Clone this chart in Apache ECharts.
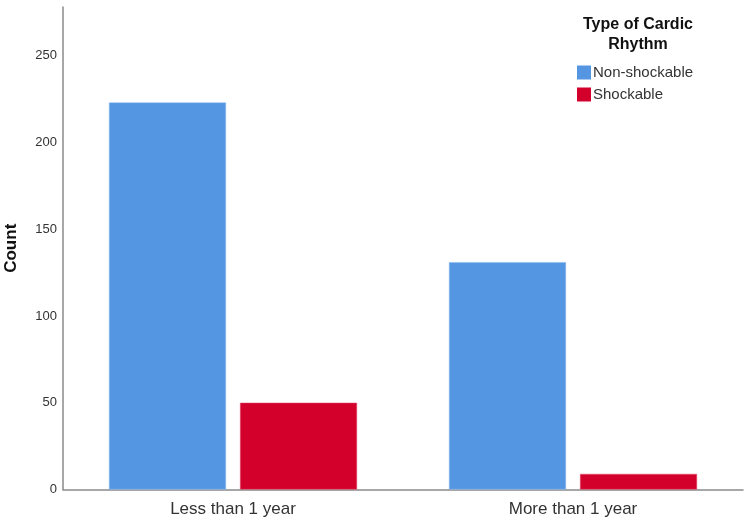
<!DOCTYPE html>
<html>
<head>
<meta charset="utf-8">
<script src="https://cdn.jsdelivr.net/npm/echarts@6/dist/echarts.min.js"></script>
<style>
  html, body { margin: 0; padding: 0; background: #fff; }
  #chart { width: 750px; height: 525px; }
</style>
</head>
<body>
<div id="chart"></div>
<script>
// 数据
const categories = ["Less than 1 year", "More than 1 year"];
const nonShockable = [223, 131];
const shockable = [50, 9];
const yTicks = [0, 50, 100, 150, 200, 250];

const chart = echarts.init(document.getElementById("chart"));

const option = {
  animation: false,
  textStyle: { fontFamily: "Liberation Sans, Arial, sans-serif" },
  title: {
    text: "Type of Cardic\nRhythm",
    left: 633,
    top: 10,
    textAlign: "center",
    textStyle: {
      fontSize: 16,
      fontWeight: "bold",
      color: "#111",
      lineHeight: 20,
    },
  },
  legend: {
    orient: "vertical",
    left: 572,
    top: 60,
    itemWidth: 14,
    itemHeight: 14,
    itemGap: 7,
    selectedMode: false,
    icon: "rect",
    itemStyle: { borderWidth: 0 },
    textStyle: { fontSize: 15, color: "#333", padding: [0, 0, 0, -3] },
    data: ["Non-shockable", "Shockable"],
  },
  grid: {
    left: 63,
    right: 7,
    top: 7,
    bottom: 35.5,
    outerBoundsMode: "none",
    containLabel: false,
  },
  xAxis: {
    type: "category",
    data: categories,
    axisTick: { show: false },
    axisLine: { lineStyle: { color: "#8a8a8a", width: 1.5 } },
    axisLabel: { fontSize: 17, color: "#333", margin: 11 },
  },
  yAxis: {
    type: "value",
    min: 0,
    max: 278,
    interval: 50,
    name: "Count",
    nameLocation: "middle",
    nameGap: 43,
    nameTextStyle: { fontSize: 17, fontWeight: "bold", color: "#111" },
    axisLine: { show: true, lineStyle: { color: "#8a8a8a", width: 1.5 } },
    axisTick: { show: false },
    splitLine: { show: false },
    axisLabel: {
      fontSize: 13,
      color: "#333",
      margin: 6,
      formatter: (v) => (yTicks.includes(v) ? String(v) : ""),
    },
  },
  series: [
    {
      name: "Non-shockable",
      type: "bar",
      data: nonShockable,
      barWidth: 117,
      barGap: "12%",
      itemStyle: { color: "#5596e3", borderColor: "#8ab8ee", borderWidth: 0.5 },
    },
    {
      name: "Shockable",
      type: "bar",
      data: shockable,
      barWidth: 117,
      barGap: "12%",
      itemStyle: { color: "#d3002c", borderColor: "#e05070", borderWidth: 0.5 },
    },
  ],
};

chart.setOption(option);
</script>
</body>
</html>
